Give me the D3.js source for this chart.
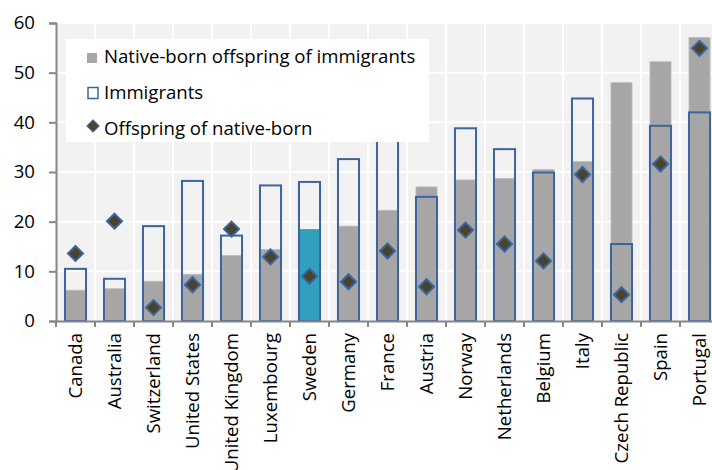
<!DOCTYPE html>
<html><head><meta charset="utf-8">
<script src="https://cdn.jsdelivr.net/npm/d3@7"></script>
<style>
html,body{margin:0;padding:0;background:#fff;overflow:hidden}
text{font-family:"Open Sans",sans-serif;fill:#000}
</style></head>
<body>
<svg id="chart" width="712" height="470"></svg>
<script>
const categories = ["Canada","Australia","Switzerland","United States","United Kingdom","Luxembourg","Sweden","Germany","France","Austria","Norway","Netherlands","Belgium","Italy","Czech Republic","Spain","Portugal"];
const nativeOffspringImm = [6.2,6.5,8.0,9.4,13.2,14.4,18.5,19.1,22.3,27.0,28.4,28.7,30.5,32.1,48.0,52.2,57.1];
const immigrants = [10.5,8.5,19.1,28.2,17.2,27.3,28.0,32.6,40.0,25.0,38.8,34.6,29.9,44.8,15.5,39.3,42.0];
const offspringNative = [13.6,20.1,2.7,7.3,18.5,12.9,9.0,7.9,14.1,6.9,18.3,15.5,12.1,29.5,5.3,31.6,54.9];
const yTicks = [0,10,20,30,40,50,60];
const highlight = "Sweden";
const legendLabels = ["Native-born offspring of immigrants","Immigrants","Offspring of native-born"];

(function(){
const FONT = "'Open Sans', sans-serif", FS = "18.6px";
const C = {bg:"#f2f2f2", grey:"#a6a6a6", teal:"#32a0bd", blue:"#3b65a0", diamond:"#4a4329", axis:"#868686"};
const svg = d3.select("#chart");
const pLeft = 56, pTop = 23, pBottom = 321, step = 39;
const x = d3.scaleBand().domain(categories).range([pLeft, pLeft + step*categories.length]).padding(0);
const y = d3.scaleLinear().domain([0,60]).range([pBottom, pTop]);
const bw = x.bandwidth()*0.54;
const cx = d => x(d) + x.bandwidth()/2;

svg.append("rect").attr("x", pLeft).attr("y", pTop).attr("width", 712-pLeft).attr("height", pBottom-pTop).attr("fill", C.bg);
svg.append("g").selectAll("line").data(yTicks.slice(1)).join("line")
  .attr("x1", pLeft).attr("x2", 712).attr("y1", d=>y(d)).attr("y2", d=>y(d))
  .attr("stroke", "#fff").attr("stroke-width", 2);
svg.append("g").selectAll("line").data(categories.slice(1)).join("line")
  .attr("x1", d=>x(d)).attr("x2", d=>x(d)).attr("y1", pTop).attr("y2", pBottom)
  .attr("stroke", "#fff").attr("stroke-width", 2);

svg.append("g").selectAll("rect").data(categories).join("rect")
  .attr("x", d=>cx(d)-bw/2).attr("width", bw)
  .attr("y", (d,i)=>y(nativeOffspringImm[i])).attr("height", (d,i)=>pBottom-y(nativeOffspringImm[i]))
  .attr("fill", d=> d===highlight ? C.teal : C.grey)
  .attr("stroke", d=> d===highlight ? "none" : "#bdbdbd").attr("stroke-width", 0.8);

svg.append("g").selectAll("rect").data(categories).join("rect")
  .attr("x", d=>cx(d)-bw/2).attr("width", bw)
  .attr("y", (d,i)=>y(immigrants[i])).attr("height", (d,i)=>pBottom-y(immigrants[i]))
  .attr("fill", "none").attr("stroke", C.blue).attr("stroke-width", 2);

const ds = 7.5;
svg.append("g").selectAll("path").data(categories).join("path")
  .attr("d", (d,i)=>{const px=cx(d), py=y(offspringNative[i]); return `M${px},${py-ds}L${px+ds},${py}L${px},${py+ds}L${px-ds},${py}Z`;})
  .attr("fill", C.diamond).attr("stroke", C.blue).attr("stroke-width", 2);

const ya = svg.append("g").attr("transform", `translate(${pLeft},0)`)
  .call(d3.axisLeft(y).tickValues(yTicks).tickSize(7).tickPadding(14).tickFormat(d3.format("d")));
ya.select(".domain").attr("stroke", C.axis).attr("stroke-width", 2);
ya.selectAll(".tick line").attr("stroke", C.axis).attr("stroke-width", 2);
ya.selectAll("text").style("font-family",FONT).style("font-size",FS).attr("fill","#000");

const xa = svg.append("g").attr("transform", `translate(0,${pBottom})`)
  .call(d3.axisBottom(x).tickSize(0).tickPadding(0));
xa.select(".domain").attr("stroke", C.axis).attr("stroke-width", 2);
xa.selectAll(".tick line").remove();
xa.selectAll(".tick text")
  .attr("transform", "rotate(-90)").attr("x", -12).attr("y", 0).attr("dy", "0.35em")
  .attr("text-anchor", "end").style("font-family",FONT).style("font-size",FS).attr("fill","#000");
svg.append("g").selectAll("line").data(categories).join("line")
  .attr("x1", d=>x(d)).attr("x2", d=>x(d)).attr("y1", pBottom).attr("y2", pBottom+6)
  .attr("stroke", C.axis).attr("stroke-width", 2);

const lg = svg.append("g");
lg.append("rect").attr("x", 66).attr("y", 39).attr("width", 363).attr("height", 103).attr("fill", "#fff");
const rows = [63, 99, 135];
lg.append("rect").attr("x", 87).attr("y", rows[0]-10).attr("width", 10).attr("height", 10).attr("fill", C.grey);
lg.append("rect").attr("x", 88).attr("y", rows[1]-11.5).attr("width", 10).attr("height", 11).attr("fill", "#fff").attr("stroke", C.blue).attr("stroke-width", 1.5);
lg.append("path").attr("d", `M93,${rows[2]-15}L99,${rows[2]-9}L93,${rows[2]-3}L87,${rows[2]-9}Z`).attr("fill", C.diamond).attr("stroke", C.blue).attr("stroke-width", 1.2);
lg.selectAll("text.l").data(legendLabels).join("text").attr("class","l")
  .attr("x", 104).attr("y", (d,i)=>rows[i]).text(d=>d).style("font-family",FONT).style("font-size",FS);
})();
</script>
</body></html>
